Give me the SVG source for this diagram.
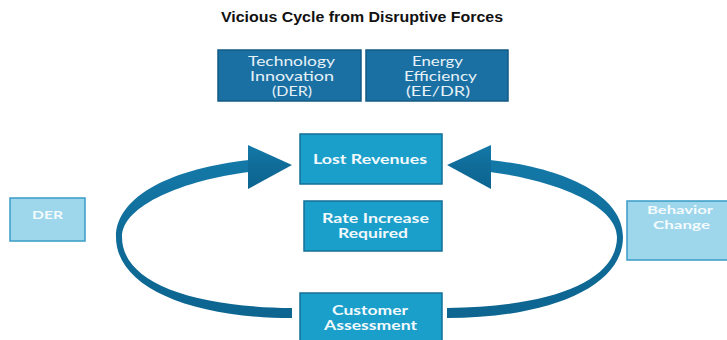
<svg xmlns="http://www.w3.org/2000/svg" width="727" height="340" viewBox="0 0 727 340">
  <style>
    .title { font-family: "Liberation Sans", Arial, sans-serif; font-size: 14px; font-weight: bold; fill: #111; }
    .dark rect { fill: #1b70a3; stroke: #145a85; stroke-width: 1.5; }
    .dark text { font-family: Lato, "Open Sans", sans-serif; font-size: 12.5px; fill: #e6f2f8; text-anchor: middle; }
    .mid rect { fill: #1a9fcb; stroke: #166f96; stroke-width: 1.5; }
    .mid text { font-family: Lato, "Open Sans", sans-serif; font-size: 12.5px; font-weight: bold; fill: #f2f9fc; text-anchor: middle; }
    .light rect { fill: #9ed6ec; stroke: #3a9cc7; stroke-width: 1.5; }
    .light text { font-family: Lato, "Open Sans", sans-serif; font-size: 12px; font-weight: bold; fill: #f4fbfd; text-anchor: middle; }
    .arc { fill: url(#band); }
  </style>
  <defs>
    <linearGradient id="band" x1="0" y1="0" x2="0" y2="1">
      <stop offset="0" stop-color="#1479a8"/>
      <stop offset="0.5" stop-color="#0f6b98"/>
      <stop offset="1" stop-color="#0d6590"/>
    </linearGradient>
    <!-- one curved arrow: band from the bottom box round to the top box -->
    <g id="loop-arrow" class="arc">
      <path d="M292,318 C190,318 116,287 116,237 C116,195 175,168 249,160 L249,172 C185,180 122,205 122,237 C122,282 190,307 292,308 Z"/>
      <polygon points="248,145 292,165 248,189"/>
    </g>
  </defs>

  <text class="title" x="362" y="22" text-anchor="middle" textLength="282" lengthAdjust="spacingAndGlyphs">Vicious Cycle from Disruptive Forces</text>

  <g id="connectors">
    <use href="#loop-arrow"/>
    <use href="#loop-arrow" transform="translate(739,0) scale(-1,1)"/>
  </g>

  <g id="tech-innovation" class="dark">
    <rect x="218" y="50" width="143" height="51"/>
    <text x="291.5" y="66" textLength="87" lengthAdjust="spacingAndGlyphs">Technology</text>
    <text x="292" y="81" textLength="84" lengthAdjust="spacingAndGlyphs">Innovation</text>
    <text x="292" y="96" textLength="40" lengthAdjust="spacingAndGlyphs">(DER)</text>
  </g>

  <g id="energy-efficiency" class="dark">
    <rect x="366" y="50" width="142" height="51"/>
    <text x="437.5" y="66" textLength="51" lengthAdjust="spacingAndGlyphs">Energy</text>
    <text x="440.5" y="81" textLength="73" lengthAdjust="spacingAndGlyphs">Efficiency</text>
    <text x="438" y="96" textLength="64" lengthAdjust="spacingAndGlyphs">(EE/DR)</text>
  </g>

  <g id="lost-revenues" class="mid">
    <rect x="300" y="134" width="142" height="50"/>
    <text x="370" y="164" textLength="114" lengthAdjust="spacingAndGlyphs">Lost Revenues</text>
  </g>

  <g id="rate-increase" class="mid">
    <rect x="304" y="201" width="138" height="50"/>
    <text x="375.5" y="223" textLength="107" lengthAdjust="spacingAndGlyphs">Rate Increase</text>
    <text x="373" y="238" textLength="70" lengthAdjust="spacingAndGlyphs">Required</text>
  </g>

  <g id="customer-assessment" class="mid">
    <rect x="300" y="293" width="142" height="52"/>
    <text x="370" y="315" textLength="76" lengthAdjust="spacingAndGlyphs">Customer</text>
    <text x="370.5" y="330" textLength="93" lengthAdjust="spacingAndGlyphs">Assessment</text>
  </g>

  <g id="der" class="light">
    <rect x="10" y="198" width="75" height="43"/>
    <text x="47.5" y="219" textLength="31" lengthAdjust="spacingAndGlyphs">DER</text>
  </g>

  <g id="behavior-change" class="light">
    <rect x="627" y="201" width="104" height="59"/>
    <text x="680" y="214" textLength="66" lengthAdjust="spacingAndGlyphs">Behavior</text>
    <text x="681.5" y="229" textLength="57" lengthAdjust="spacingAndGlyphs">Change</text>
  </g>
</svg>
